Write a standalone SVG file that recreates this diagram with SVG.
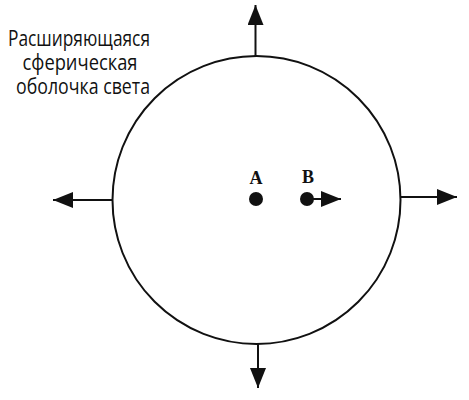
<svg xmlns="http://www.w3.org/2000/svg" width="469" height="400" viewBox="0 0 469 400">
<defs>
<style>
.ray{stroke:#111;stroke-width:2;fill:none}
.cap{font-family:"Open Sans","Noto Sans",sans-serif;font-size:21px;fill:#111;text-anchor:middle}
.lbl{font-family:"Liberation Serif",serif;font-weight:bold;font-size:18px;fill:#111;text-anchor:middle}
</style>
<marker id="ah" viewBox="0 0 20 16" refX="20" refY="8" markerWidth="20" markerHeight="16" markerUnits="userSpaceOnUse" orient="auto">
<path d="M0,0 L20,8 L0,16 Z" fill="#111"/>
</marker>
</defs>
<rect width="469" height="400" fill="#fff"/>
<g id="shell">
<circle cx="256.5" cy="200" r="144" fill="none" stroke="#111" stroke-width="2"/>
</g>
<g id="caption">
<text class="cap" x="79" y="46" textLength="142" lengthAdjust="spacingAndGlyphs">Расширяющаяся</text>
<text class="cap" x="80" y="70" textLength="115" lengthAdjust="spacingAndGlyphs">сферическая</text>
<text class="cap" x="83" y="94" textLength="134" lengthAdjust="spacingAndGlyphs">оболочка света</text>
</g>
<g id="pointA">
<circle cx="256" cy="199" r="7" fill="#111"/>
<text class="lbl" x="256" y="184">A</text>
</g>
<g id="pointB">
<circle cx="307" cy="199" r="7" fill="#111"/>
<text class="lbl" x="308" y="183">B</text>
</g>
<g id="connectors">
<line class="ray" x1="255.5" y1="56" x2="255.5" y2="5" marker-end="url(#ah)"/>
<line class="ray" x1="400" y1="197" x2="457" y2="197" marker-end="url(#ah)"/>
<line class="ray" x1="113" y1="200" x2="53" y2="200" marker-end="url(#ah)"/>
<line class="ray" x1="258" y1="344" x2="258" y2="388" marker-end="url(#ah)"/>
<line class="ray" x1="307" y1="199" x2="341" y2="199" marker-end="url(#ah)"/>
</g>
</svg>
